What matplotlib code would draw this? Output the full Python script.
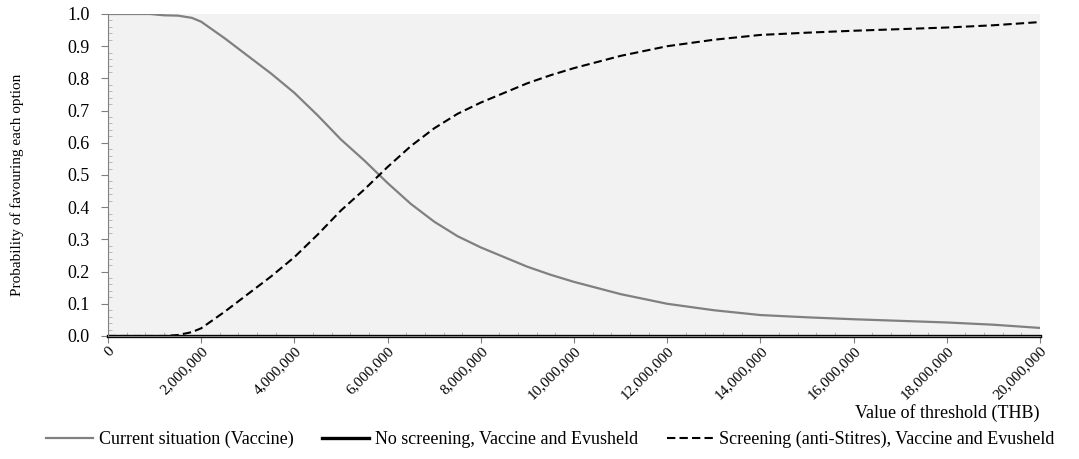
import matplotlib.pyplot as plt
import matplotlib.ticker as mticker

plt.rcParams['font.family'] = ['Liberation Serif', 'DejaVu Serif']

# threshold values (THB)
thresholds = [0, 500000, 900000, 1200000, 1500000, 1800000, 2000000, 2500000, 3000000,
              3500000, 4000000, 4500000, 5000000, 5500000, 6000000, 6500000, 7000000,
              7500000, 8000000, 8500000, 9000000, 9500000, 10000000, 11000000, 12000000,
              13000000, 14000000, 15000000, 16000000, 17000000, 18000000, 19000000, 20000000]
current = [1.0, 1.0, 1.0, 0.996, 0.995, 0.988, 0.976, 0.925, 0.87,
           0.815, 0.755, 0.685, 0.61, 0.545, 0.475, 0.41, 0.355,
           0.31, 0.275, 0.245, 0.215, 0.19, 0.168, 0.13, 0.10,
           0.08, 0.065, 0.058, 0.052, 0.047, 0.042, 0.035, 0.025]
no_screen = [0.0] * len(thresholds)
screening = [0.0, 0.0, 0.0, 0.0, 0.003, 0.012, 0.024, 0.075, 0.13,
             0.185, 0.245, 0.315, 0.39, 0.455, 0.525, 0.59, 0.645,
             0.69, 0.725, 0.755, 0.785, 0.81, 0.832, 0.87, 0.90,
             0.92, 0.935, 0.942, 0.948, 0.953, 0.958, 0.965, 0.975]

fig = plt.figure(figsize=(10.79, 4.59), dpi=100)
ax = fig.add_axes([0.1001, 0.268, 0.8638, 0.7015])
ax.set_facecolor('#f2f2f2')

ax.plot(thresholds, current, color='#808080', lw=1.6, label='Current situation (Vaccine)')
ax.plot(thresholds, no_screen, color='black', lw=2.4, clip_on=False,
        label='No screening, Vaccine and Evusheld')
ax.plot(thresholds, screening, color='black', lw=1.5, ls=(0, (4, 2)),
        label='Screening (anti-Stitres), Vaccine and Evusheld')

ax.set_xlim(0, 20000000)
ax.set_ylim(0, 1.0)
ax.set_xticks(range(0, 20000001, 2000000))
ax.xaxis.set_major_formatter(mticker.FuncFormatter(lambda v, p: '{:,}'.format(int(v))))
ax.xaxis.set_minor_locator(mticker.MultipleLocator(400000))
ax.set_yticks([i / 10 for i in range(11)])
ax.yaxis.set_major_formatter(mticker.FormatStrFormatter('%.1f'))
ax.yaxis.set_minor_locator(mticker.MultipleLocator(0.02))

for s in ['top', 'right']:
    ax.spines[s].set_visible(False)
ax.spines['left'].set_color('#808080')
ax.spines['bottom'].set_color('#808080')
ax.tick_params(axis='both', which='major', colors='#808080', length=5, direction='out',
               labelcolor='black', labelsize=13)
ax.tick_params(axis='both', which='minor', colors='#b0b0b0', length=3, direction='in')
ax.tick_params(axis='y', which='major', pad=8)
ax.tick_params(axis='x', which='major', labelsize=11, pad=1)
plt.setp(ax.get_xticklabels(), rotation=45, ha='right', rotation_mode='anchor')

ax.set_ylabel('Probability of favouring each option', fontsize=11)
ax.yaxis.set_label_coords(-0.09, 0.47)
fig.text(0.963, 0.1, 'Value of threshold (THB)', ha='right', va='center', fontsize=13)

fig.legend(loc='center', bbox_to_anchor=(0.51, 0.042), ncol=3, frameon=False,
           fontsize=13, handlelength=2.6, columnspacing=1.6, handletextpad=0.3)

fig.savefig('out.png', dpi=100)
